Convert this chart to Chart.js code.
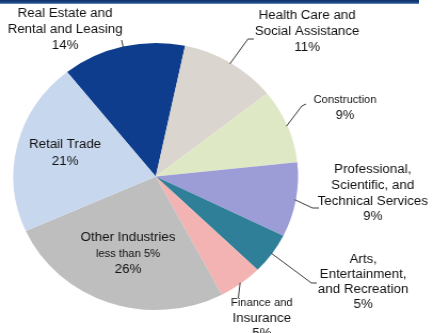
<!DOCTYPE html>
<html>
<head>
<meta charset="utf-8">
<script src="https://cdn.jsdelivr.net/npm/chart.js@4/dist/chart.umd.min.js"></script>
<style>
  html, body { margin: 0; padding: 0; background: #fff; overflow: hidden; }
  #topbar {
    position: absolute; left: 0; top: 0; width: 419px; height: 4px;
    background: linear-gradient(#0f2f66, #1d4c8e 70%, #8aa6cc);
  }
  #wrap {
    position: absolute; left: 0; top: 0; width: 406px; height: 333px;
    transform: scaleX(1.0665); transform-origin: 0 0;
  }
</style>
</head>
<body>
<div id="wrap"><canvas id="c" width="406" height="333"></canvas></div>
<div id="topbar"></div>
<script>
// Industry shares, clockwise from the top-left slice
const categories = [
  'Real Estate and Rental and Leasing',
  'Health Care and Social Assistance',
  'Construction',
  'Professional, Scientific, and Technical Services',
  'Arts, Entertainment, and Recreation',
  'Finance and Insurance',
  'Other Industries less than 5%',
  'Retail Trade'
];
const shares = [14, 11, 9, 9, 5, 5, 26, 21];
const nameLines = [
  ['Real Estate and', 'Rental and Leasing'],
  ['Health Care and', 'Social Assistance'],
  ['Construction'],
  ['Professional,', 'Scientific, and', 'Technical Services'],
  ['Arts,', 'Entertainment,', 'and Recreation'],
  ['Finance and', 'Insurance'],
  ['Other Industries', 'less than 5%'],
  ['Retail Trade']
];
const sliceColors = ['#0d3d8c', '#dbd5cf', '#dfe8c4', '#9c9cd7', '#2f7f99', '#f2b3b2', '#bebebe', '#c7d7ee'];

// Label placement relative to the pie centre: first line offset, line step,
// per-line font sizes and optional leader-line points (from the arc edge).
const labelLayout = [
  { dx: -85, dy: -162.5, step: 16, sizes: [12.5, 12.5, 12.5], leader: [[-32, -136.5]] },
  { dx: 142, dy: -160.5, step: 16, sizes: [12.5, 12.5, 12.5], leader: [[86.5, -137.5], [92, -137.5]] },
  { dx: 177.5, dy: -76.5, step: 15.5, sizes: [10.5, 12], leader: [[137, -70.5], [141, -72.5]] },
  { dx: 203.5, dy: -6.5, step: 15.6, sizes: [12.5, 12.5, 12.5, 12.5], leader: [[147, 31.5], [153, 31.5]] },
  { dx: 194.5, dy: 83.5, step: 14.8, sizes: [12.5, 12.5, 12.5, 12.5], leader: [[146, 106.5], [151, 106.5]] },
  { dx: 99.5, dy: 126.5, step: 15.5, sizes: [10.5, 12.5, 12.5], leader: [[77.5, 121.5]] },
  { dx: -26, dy: 61.5, step: 16, sizes: [12.5, 10.5, 12.5], leader: null },
  { dx: -85, dy: -31.5, step: 16.5, sizes: [12.5, 12.5], leader: null }
];

const labelPlugin = {
  id: 'sliceLabels',
  afterDatasetsDraw(chart) {
    const ctx = chart.ctx;
    const meta = chart.getDatasetMeta(0);
    ctx.save();
    meta.data.forEach((arc, i) => {
      const { x, y, startAngle, endAngle, outerRadius } = arc.getProps(['x', 'y', 'startAngle', 'endAngle', 'outerRadius'], true);
      const mid = (startAngle + endAngle) / 2;
      const lay = labelLayout[i];
      if (lay.leader) {
        ctx.beginPath();
        ctx.strokeStyle = '#3a3a3a';
        ctx.lineWidth = 1;
        ctx.moveTo(x + Math.cos(mid) * (outerRadius - 1), y + Math.sin(mid) * (outerRadius - 1));
        lay.leader.forEach(p => ctx.lineTo(x + p[0], y + p[1]));
        ctx.stroke();
      }
      const lines = nameLines[i].concat([shares[i] + '%']);
      ctx.fillStyle = '#111';
      ctx.textAlign = 'center';
      ctx.textBaseline = 'middle';
      lines.forEach((t, k) => {
        ctx.font = lay.sizes[k] + 'px "Liberation Sans", Arial, sans-serif';
        ctx.fillText(t, x + lay.dx, y + lay.dy + k * lay.step);
      });
    });
    ctx.restore();
  }
};

new Chart(document.getElementById('c'), {
  type: 'pie',
  data: {
    labels: categories,
    datasets: [{
      data: shares,
      backgroundColor: sliceColors,
      borderWidth: 0,
      hoverOffset: 0,
      offset: 0
    }]
  },
  options: {
    responsive: false,
    animation: false,
    rotation: -38.5,
    layout: { padding: { left: 12.5, top: 43, right: 126.5, bottom: 23 } },
    plugins: { legend: { display: false }, tooltip: { enabled: false } },
    events: []
  },
  plugins: [labelPlugin]
});
</script>
</body>
</html>
